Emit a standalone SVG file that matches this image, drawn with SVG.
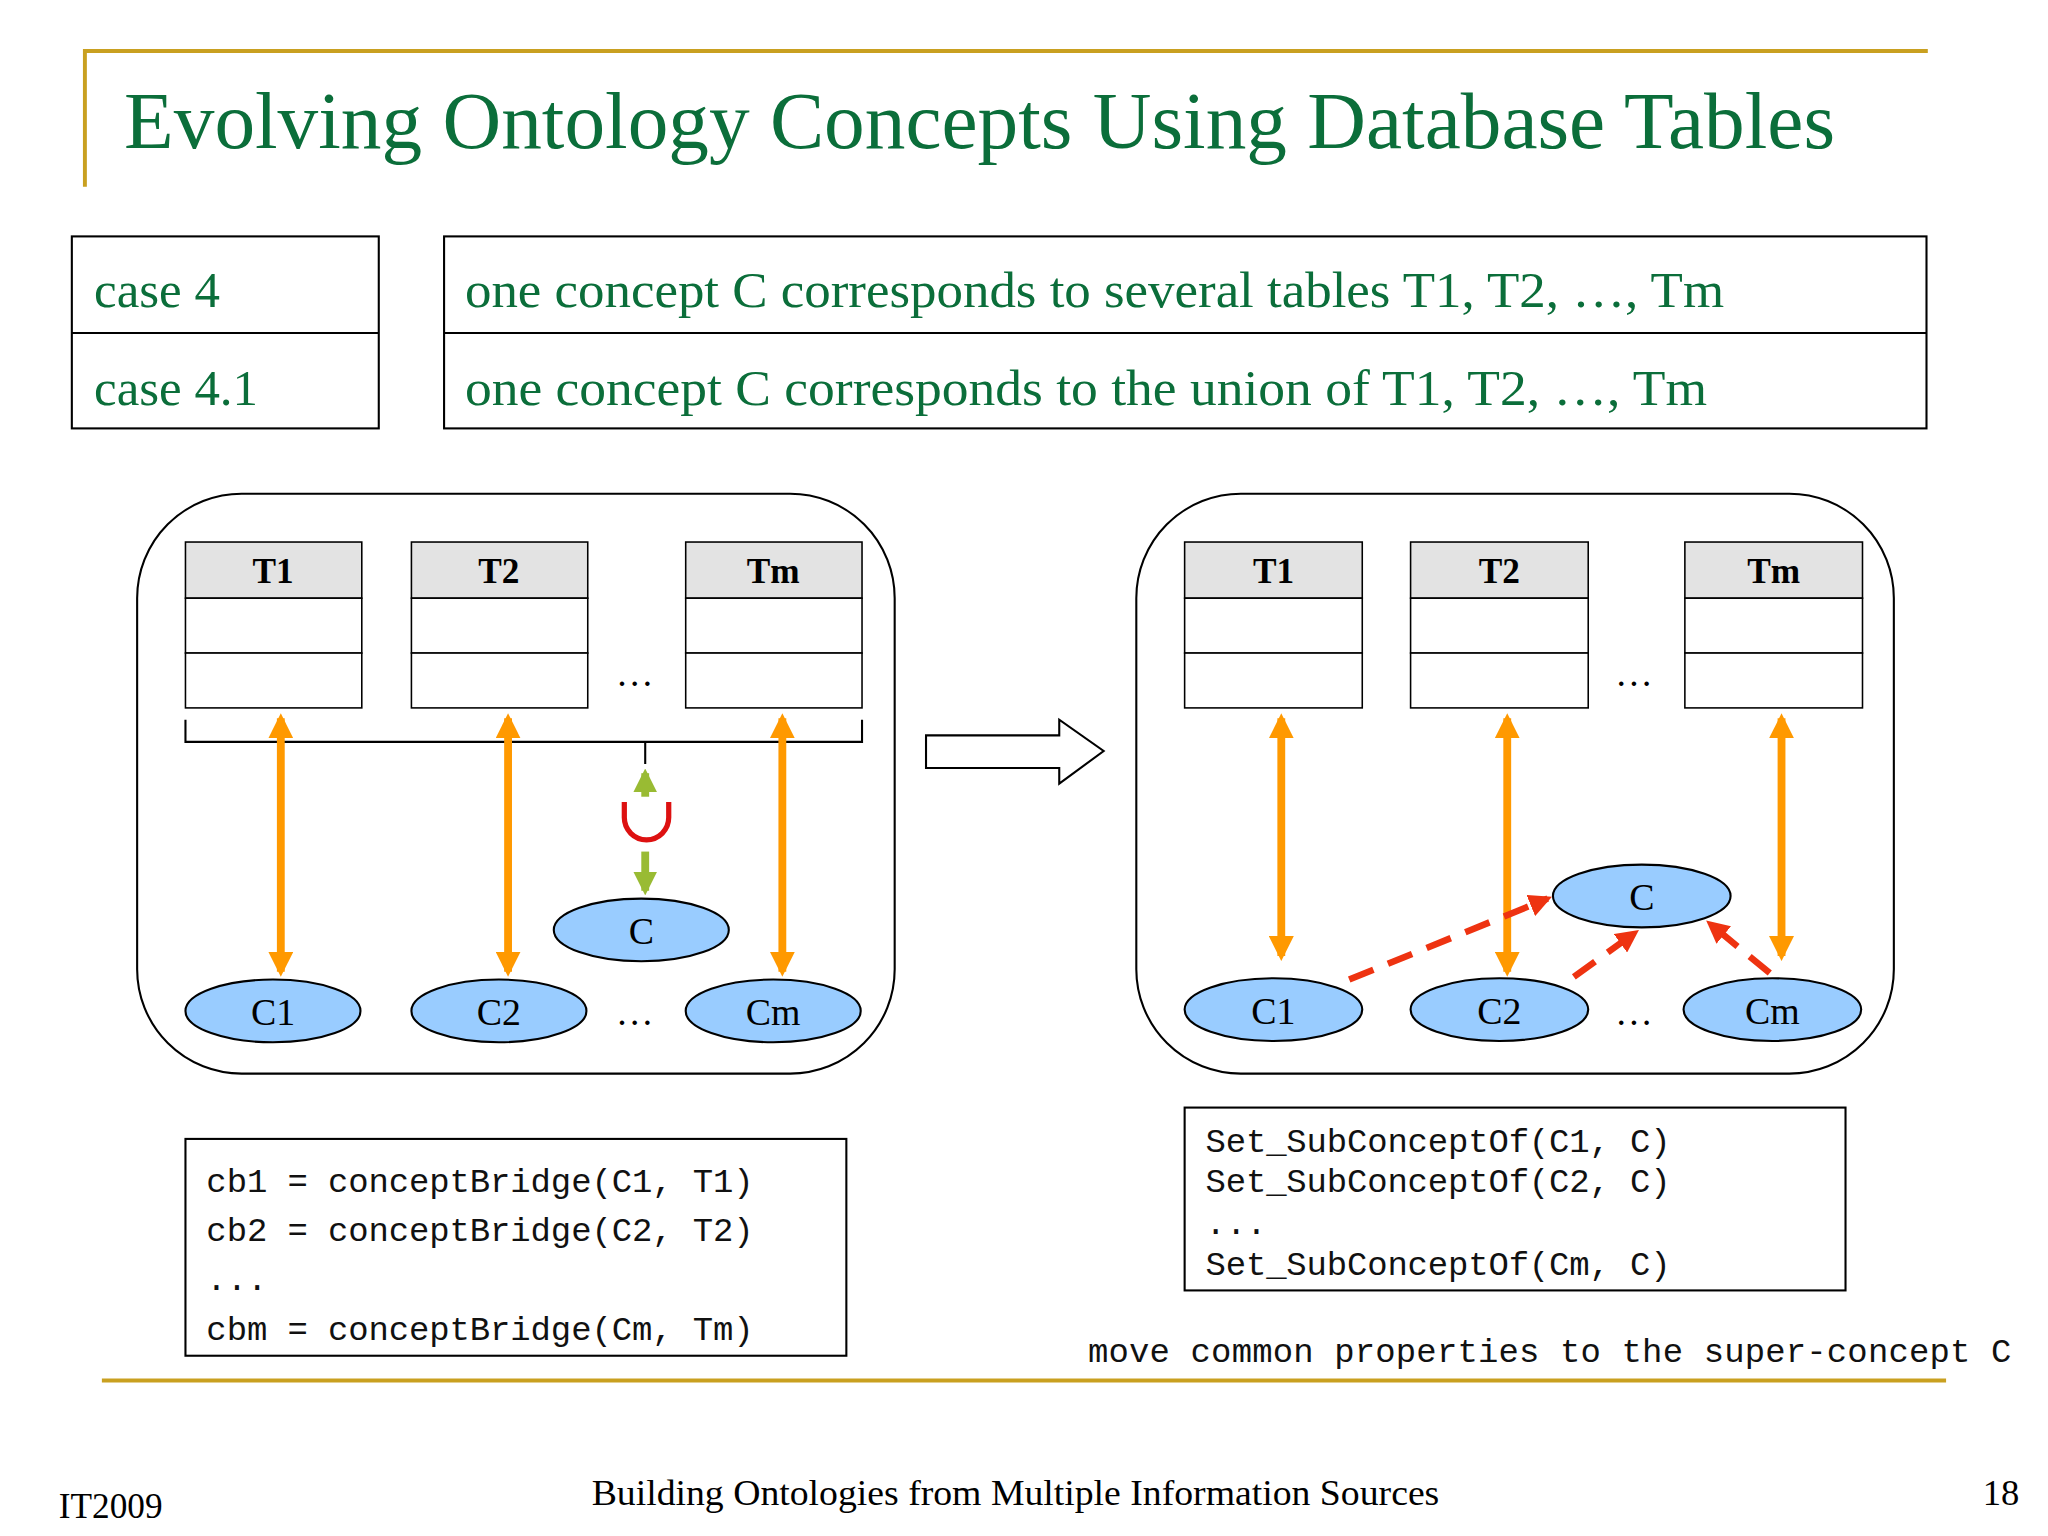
<svg xmlns="http://www.w3.org/2000/svg" width="2048" height="1536" viewBox="0 0 2048 1536">
<defs>
<style>
.g{fill:#0B6E3A;font-family:"Liberation Serif",serif}
.s{font-family:"Liberation Serif",serif;fill:#000}
.m{font-family:"Liberation Mono",monospace;font-size:26px;fill:#111}
.box{fill:none;stroke:#000;stroke-width:1.6}
.hd{fill:#e3e3e3;stroke:#000;stroke-width:1.2}
.row{fill:#fff;stroke:#000;stroke-width:1.2}
.el{fill:#99CCFF;stroke:#000;stroke-width:1.6}
.tn{font-family:"Liberation Serif",serif;font-weight:bold;font-size:27px;text-anchor:middle}
.cn{font-family:"Liberation Serif",serif;font-size:29px;text-anchor:middle}
.or{stroke:#FF9900;stroke-width:6;fill:none;marker-start:url(#oa);marker-end:url(#oa)}
.rd{stroke:#EE3311;stroke-width:5;fill:none;stroke-dasharray:20 12;marker-end:url(#ra)}
</style>
<marker id="oa" viewBox="0 0 10 10" refX="8" refY="5" markerWidth="3.2" markerHeight="3.2" orient="auto-start-reverse"><path d="M0,0L10,5L0,10z" fill="#FF9900"/></marker>
<marker id="ra" viewBox="0 0 10 10" refX="8" refY="5" markerWidth="3.5" markerHeight="3.5" orient="auto"><path d="M0,0L10,5L0,10z" fill="#EE3311"/></marker>
<marker id="ga" viewBox="0 0 10 10" refX="8" refY="5" markerWidth="3" markerHeight="3" orient="auto"><path d="M0,0L10,5L0,10z" fill="#99BB33"/></marker>
</defs>
<rect width="2048" height="1536" fill="#fff"/>
<g transform="scale(1.3061)">
<g id="title">
<path d="M65,143V39H1476" fill="none" stroke="#C9A020" stroke-width="3"/>
<text class="g" x="95" y="113" font-size="62" textLength="1310" lengthAdjust="spacingAndGlyphs">Evolving Ontology Concepts Using Database Tables</text>
</g>
<g id="cases">
<rect class="box" x="55" y="181" width="235" height="147"/><line class="box" x1="55" y1="255" x2="290" y2="255"/>
<rect class="box" x="340" y="181" width="1135" height="147"/><line class="box" x1="340" y1="255" x2="1475" y2="255"/>
<text class="g" x="72" y="235" font-size="39">case 4</text>
<text class="g" x="72" y="310" font-size="39">case 4.1</text>
<text class="g" x="356" y="235" font-size="38" textLength="964" lengthAdjust="spacingAndGlyphs">one concept C corresponds to several tables T1, T2, …, Tm</text>
<text class="g" x="356" y="310" font-size="38" textLength="951" lengthAdjust="spacingAndGlyphs">one concept C corresponds to the union of T1, T2, …, Tm</text>
</g>
<g id="left">
<rect class="box" x="105" y="378" width="580" height="444" rx="80"/>
<g id="lT1"><rect class="hd" x="142" y="415" width="135" height="43"/><rect class="row" x="142" y="458" width="135" height="42"/><rect class="row" x="142" y="500" width="135" height="42"/><text class="tn" x="209" y="446">T1</text></g>
<g id="lT2"><rect class="hd" x="315" y="415" width="135" height="43"/><rect class="row" x="315" y="458" width="135" height="42"/><rect class="row" x="315" y="500" width="135" height="42"/><text class="tn" x="382" y="446">T2</text></g>
<g id="lTm"><rect class="hd" x="525" y="415" width="135" height="43"/><rect class="row" x="525" y="458" width="135" height="42"/><rect class="row" x="525" y="500" width="135" height="42"/><text class="tn" x="592" y="446">Tm</text></g>
<text class="cn" x="486" y="525">…</text>
<path d="M142,551V568H660V551M494,568V585" fill="none" stroke="#000" stroke-width="1.6"/>
<path d="M478,614V626A17,17 0 0 0 512,626V614" fill="none" stroke="#DD1111" stroke-width="4"/>
<g id="lC1"><ellipse class="el" cx="209" cy="774" rx="67" ry="24"/><text class="cn" x="209" y="785">C1</text></g>
<g id="lC2"><ellipse class="el" cx="382" cy="774" rx="67" ry="24"/><text class="cn" x="382" y="785">C2</text></g>
<g id="lCm"><ellipse class="el" cx="592" cy="774" rx="67" ry="24"/><text class="cn" x="592" y="785">Cm</text></g>
<g id="lC"><ellipse class="el" cx="491" cy="712" rx="67" ry="24"/><text class="cn" x="491" y="723">C</text></g>
<text class="cn" x="486" y="785">…</text>
</g>
<g id="arrowBig"><path d="M709,563H811V551L845,575L811,600V588H709z" fill="#fff" stroke="#000" stroke-width="1.6"/></g>
<g id="right">
<rect class="box" x="870" y="378" width="580" height="444" rx="80"/>
<g id="rT1"><rect class="hd" x="907" y="415" width="136" height="43"/><rect class="row" x="907" y="458" width="136" height="42"/><rect class="row" x="907" y="500" width="136" height="42"/><text class="tn" x="975" y="446">T1</text></g>
<g id="rT2"><rect class="hd" x="1080" y="415" width="136" height="43"/><rect class="row" x="1080" y="458" width="136" height="42"/><rect class="row" x="1080" y="500" width="136" height="42"/><text class="tn" x="1148" y="446">T2</text></g>
<g id="rTm"><rect class="hd" x="1290" y="415" width="136" height="43"/><rect class="row" x="1290" y="458" width="136" height="42"/><rect class="row" x="1290" y="500" width="136" height="42"/><text class="tn" x="1358" y="446">Tm</text></g>
<text class="cn" x="1251" y="525">…</text>
<g id="rC1"><ellipse class="el" cx="975" cy="773" rx="68" ry="24"/><text class="cn" x="975" y="784">C1</text></g>
<g id="rC2"><ellipse class="el" cx="1148" cy="773" rx="68" ry="24"/><text class="cn" x="1148" y="784">C2</text></g>
<g id="rCm"><ellipse class="el" cx="1357" cy="773" rx="68" ry="24"/><text class="cn" x="1357" y="784">Cm</text></g>
<g id="rC"><ellipse class="el" cx="1257" cy="686" rx="68" ry="24"/><text class="cn" x="1257" y="697">C</text></g>
<text class="cn" x="1251" y="785">…</text>
</g>
<g id="connectors">
<line class="or" x1="215" y1="550" x2="215" y2="744"/>
<line class="or" x1="389" y1="550" x2="389" y2="744"/>
<line class="or" x1="599" y1="550" x2="599" y2="744"/>
<line x1="494" y1="610" x2="494" y2="592" stroke="#99BB33" stroke-width="6" marker-end="url(#ga)"/>
<line x1="494" y1="652" x2="494" y2="682" stroke="#99BB33" stroke-width="6" marker-end="url(#ga)"/>
<line class="or" x1="981" y1="550" x2="981" y2="732"/>
<line class="or" x1="1154" y1="550" x2="1154" y2="744"/>
<line class="or" x1="1364" y1="550" x2="1364" y2="732"/>
<line class="rd" x1="1033" y1="750" x2="1185" y2="688"/>
<line class="rd" x1="1205" y1="748" x2="1252" y2="714"/>
<line class="rd" x1="1355" y1="745" x2="1309" y2="707"/>
</g>
<g id="codeL">
<rect class="box" x="142" y="872" width="506" height="166"/>
<text class="m" x="158" y="913" textLength="419">cb1 = conceptBridge(C1, T1)</text>
<text class="m" x="158" y="950" textLength="419">cb2 = conceptBridge(C2, T2)</text>
<text class="m" x="158" y="988">...</text>
<text class="m" x="158" y="1026" textLength="419">cbm = conceptBridge(Cm, Tm)</text>
</g>
<g id="codeR">
<rect class="box" x="907" y="848" width="506" height="140"/>
<text class="m" x="923" y="882" textLength="356">Set_SubConceptOf(C1, C)</text>
<text class="m" x="923" y="913" textLength="356">Set_SubConceptOf(C2, C)</text>
<text class="m" x="923" y="945">...</text>
<text class="m" x="923" y="976" textLength="356">Set_SubConceptOf(Cm, C)</text>
</g>
<text class="m" x="833" y="1043" textLength="707">move common properties to the super-concept C</text>
<line x1="78" y1="1057" x2="1490" y2="1057" stroke="#C9A020" stroke-width="3"/>
<g id="footer">
<text class="s" x="45" y="1162" font-size="27">IT2009</text>
<text class="s" x="453" y="1152" font-size="28" textLength="649" lengthAdjust="spacingAndGlyphs">Building Ontologies from Multiple Information Sources</text>
<text class="s" x="1518" y="1152" font-size="28">18</text>
</g>
</g>
</svg>
